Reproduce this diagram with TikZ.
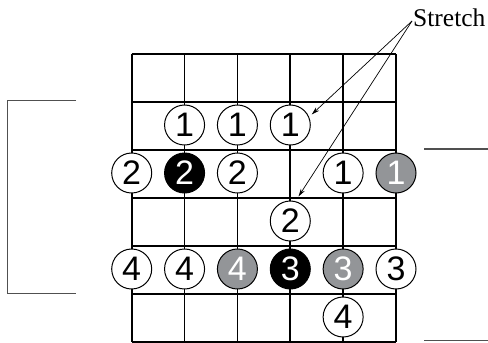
\documentclass[tikz,border=0pt]{standalone}
\usepackage{fontspec}
\setmainfont{Liberation Serif}
\newfontfamily\digitfont{Liberation Sans}
\usetikzlibrary{arrows.meta}
\definecolor{notegray}{RGB}{147,149,152}
\definecolor{bracketgray}{RGB}{80,80,80}
\begin{document}
\begin{tikzpicture}[x=1pt,y=-1pt,
  fret/.style={line width=1.6pt},
  note/.style={circle, draw, line width=1pt, minimum size=40pt, inner sep=0pt,
    font=\digitfont\fontsize{34}{34}\selectfont},
  wnote/.style={note, fill=white, text=black},
  bnote/.style={note, fill=black, text=white},
  gnote/.style={note, fill=notegray, text=white},
  pointer/.style={line width=0.7pt, -{Stealth[length=8pt,width=4.5pt]}},
  bracket/.style={line width=1.3pt, draw=bracketgray}
]
\useasboundingbox (0,0) rectangle (488,343);
% grid
\foreach \i in {0,...,5}
  \draw[fret] (131.7+52.86*\i,54) -- (131.7+52.86*\i,342);
\foreach \j in {0,...,6}
  \draw[fret] (131.7,54+48*\j) -- (396,54+48*\j);
% string positions
\def\sA{131.7}\def\sB{184.56}\def\sC{237.42}\def\sD{290.28}\def\sE{343.14}\def\sF{396}
% row 2
\node[wnote] (n22) at (\sB,125) {1};
\node[wnote] (n23) at (\sC,125) {1};
\node[wnote] (n24) at (\sD,125) {1};
% row 3
\node[wnote] (n31) at (\sA,173) {2};
\node[bnote] (n32) at (\sB,173) {2};
\node[wnote] (n33) at (\sC,173) {2};
\node[wnote] (n35) at (\sE,173) {1};
\node[gnote] (n36) at (\sF,173) {1};
% row 4
\node[wnote] (n44) at (\sD,221) {2};
% row 5
\node[wnote] (n51) at (\sA,269) {4};
\node[wnote] (n52) at (\sB,269) {4};
\node[gnote] (n53) at (\sC,269) {4};
\node[bnote] (n54) at (\sD,269) {3};
\node[gnote] (n55) at (\sE,269) {3};
\node[wnote] (n56) at (\sF,269) {3};
% row 6
\node[wnote] (n65) at (\sE,317) {4};
% label and pointers
\node[anchor=base west, inner sep=0pt, font=\fontsize{25.5}{25.5}\selectfont] (stretch) at (413,26.5) {Stretch};
\coordinate (src) at (412,21);
\coordinate (tipA) at (311.7,114.5);
\coordinate (tipB) at (298.5,196.5);
\draw[pointer] (src) -- (tipA);
\draw[pointer] (src) -- (tipB);
% brackets
\draw[bracket] (76,100.7) -- (7.3,100.7) -- (7.3,293.3) -- (76,293.3);
\draw[bracket] (424,149) -- (488,149);
\draw[bracket] (424,340.7) -- (488,340.7);
\end{tikzpicture}
\end{document}
